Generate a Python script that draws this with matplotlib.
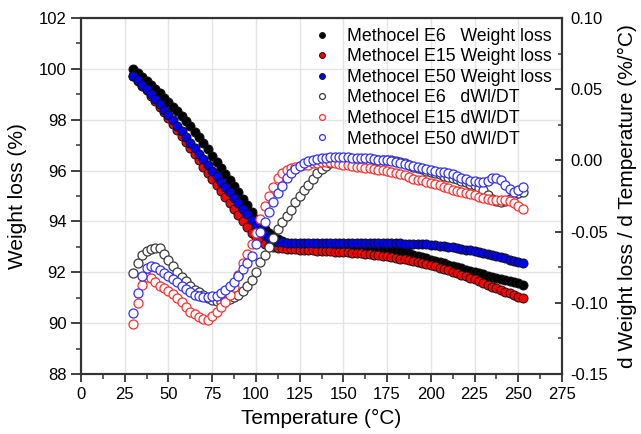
import matplotlib
matplotlib.use("Agg")
import matplotlib.pyplot as plt
from matplotlib.ticker import MultipleLocator, FormatStrFormatter

plt.rcParams["font.family"] = ["Liberation Sans", "DejaVu Sans"]
plt.rcParams["axes.unicode_minus"] = False

# Temperature (°C), one reading every 2.5 °C
temperature = [30 + 2.5 * i for i in range(90)]

# Weight loss (%)
wl_e6 = [
    100.00, 99.85, 99.69, 99.53, 99.37, 99.21, 99.04, 98.87, 98.70, 98.52,
    98.33, 98.14, 97.95, 97.74, 97.53, 97.31, 97.07, 96.83, 96.59, 96.35,
    96.11, 95.87, 95.63, 95.39, 95.15, 94.90, 94.65, 94.38, 94.10, 93.87,
    93.70, 93.55, 93.42, 93.31, 93.22, 93.16, 93.12, 93.10, 93.09, 93.08,
    93.07, 93.07, 93.06, 93.06, 93.05, 93.05, 93.04, 93.04, 93.03, 93.03,
    93.02, 93.02, 93.01, 93.00, 92.99, 92.98, 92.96, 92.94, 92.92, 92.89,
    92.85, 92.82, 92.78, 92.74, 92.70, 92.65, 92.60, 92.55, 92.50, 92.45,
    92.40, 92.35, 92.30, 92.25, 92.20, 92.15, 92.10, 92.05, 92.00, 91.96,
    91.92, 91.87, 91.83, 91.78, 91.74, 91.69, 91.65, 91.60, 91.56, 91.52,
]
wl_e15 = [
    99.70, 99.52, 99.34, 99.15, 98.95, 98.74, 98.52, 98.29, 98.06, 97.83,
    97.60, 97.36, 97.12, 96.88, 96.64, 96.40, 96.16, 95.92, 95.68, 95.44,
    95.20, 94.96, 94.72, 94.48, 94.24, 94.00, 93.77, 93.56, 93.38, 93.23,
    93.12, 93.04, 92.99, 92.96, 92.94, 92.92, 92.91, 92.90, 92.89, 92.88,
    92.87, 92.86, 92.85, 92.84, 92.83, 92.82, 92.81, 92.80, 92.79, 92.78,
    92.77, 92.76, 92.74, 92.73, 92.71, 92.69, 92.67, 92.65, 92.63, 92.60,
    92.57, 92.54, 92.51, 92.48, 92.44, 92.40, 92.36, 92.32, 92.28, 92.23,
    92.18, 92.13, 92.08, 92.03, 91.97, 91.91, 91.85, 91.78, 91.72, 91.65,
    91.58, 91.51, 91.44, 91.37, 91.30, 91.23, 91.17, 91.10, 91.04, 90.98,
]
wl_e50 = [
    99.72, 99.55, 99.38, 99.20, 99.02, 98.82, 98.61, 98.40, 98.19, 97.98,
    97.76, 97.54, 97.32, 97.10, 96.88, 96.66, 96.44, 96.22, 96.00, 95.78,
    95.56, 95.35, 95.14, 94.93, 94.72, 94.50, 94.28, 94.05, 93.83, 93.62,
    93.46, 93.35, 93.27, 93.21, 93.18, 93.16, 93.15, 93.14, 93.14, 93.14,
    93.14, 93.14, 93.14, 93.14, 93.14, 93.14, 93.14, 93.14, 93.15, 93.15,
    93.15, 93.15, 93.15, 93.15, 93.15, 93.15, 93.15, 93.15, 93.15, 93.14,
    93.14, 93.14, 93.13, 93.13, 93.12, 93.11, 93.11, 93.10, 93.08, 93.06,
    93.04, 93.02, 93.00, 92.98, 92.95, 92.92, 92.89, 92.86, 92.83, 92.80,
    92.76, 92.72, 92.68, 92.64, 92.59, 92.55, 92.50, 92.45, 92.40, 92.36,
]

# Derivative of weight loss, dWl/dT (%/°C)
dw_e6 = [
    -0.0789, -0.0721, -0.0664, -0.0634, -0.0620, -0.0614, -0.0618, -0.0657, -0.0700, -0.0743,
    -0.0784, -0.0820, -0.0848, -0.0879, -0.0907, -0.0927, -0.0945, -0.0963, -0.0979, -0.0989,
    -0.0995, -0.0986, -0.0973, -0.0961, -0.0943, -0.0918, -0.0882, -0.0839, -0.0786, -0.0714,
    -0.0664, -0.0611, -0.0545, -0.0482, -0.0429, -0.0393, -0.0348, -0.0295, -0.0250, -0.0211,
    -0.0170, -0.0129, -0.0089, -0.0059, -0.0036, -0.0020, -0.0009, -0.0004, 0.0000, 0.0000,
    0.0000, -0.0002, -0.0004, -0.0004, -0.0004, 0.0000, 0.0004, 0.0005, 0.0004, 0.0000,
    -0.0004, -0.0009, -0.0018, -0.0032, -0.0045, -0.0054, -0.0063, -0.0071, -0.0080, -0.0089,
    -0.0098, -0.0107, -0.0116, -0.0125, -0.0134, -0.0143, -0.0152, -0.0164, -0.0175, -0.0193,
    -0.0211, -0.0241, -0.0268, -0.0286, -0.0289, -0.0286, -0.0268, -0.0246, -0.0232, -0.0223,
]
dw_e15 = [
    -0.1152, -0.1000, -0.0875, -0.0816, -0.0829, -0.0857, -0.0880, -0.0898, -0.0918, -0.0939,
    -0.0963, -0.0991, -0.1027, -0.1066, -0.1082, -0.1100, -0.1116, -0.1120, -0.1096, -0.1064,
    -0.1030, -0.0993, -0.0946, -0.0891, -0.0804, -0.0718, -0.0657, -0.0589, -0.0509, -0.0411,
    -0.0321, -0.0250, -0.0184, -0.0125, -0.0086, -0.0064, -0.0054, -0.0046, -0.0039, -0.0034,
    -0.0029, -0.0021, -0.0016, -0.0011, -0.0009, -0.0013, -0.0018, -0.0023, -0.0029, -0.0034,
    -0.0039, -0.0045, -0.0048, -0.0052, -0.0055, -0.0059, -0.0064, -0.0070, -0.0075, -0.0080,
    -0.0086, -0.0093, -0.0102, -0.0114, -0.0127, -0.0136, -0.0141, -0.0150, -0.0157, -0.0166,
    -0.0175, -0.0186, -0.0196, -0.0207, -0.0216, -0.0225, -0.0232, -0.0239, -0.0246, -0.0254,
    -0.0263, -0.0271, -0.0277, -0.0279, -0.0279, -0.0279, -0.0286, -0.0300, -0.0321, -0.0339,
]
dw_e50 = [
    -0.1071, -0.0929, -0.0813, -0.0754, -0.0739, -0.0750, -0.0768, -0.0789, -0.0813, -0.0836,
    -0.0857, -0.0880, -0.0902, -0.0925, -0.0943, -0.0954, -0.0961, -0.0959, -0.0955, -0.0950,
    -0.0932, -0.0907, -0.0884, -0.0854, -0.0813, -0.0764, -0.0718, -0.0670, -0.0589, -0.0500,
    -0.0429, -0.0361, -0.0295, -0.0232, -0.0179, -0.0125, -0.0086, -0.0057, -0.0036, -0.0018,
    -0.0004, 0.0005, 0.0013, 0.0016, 0.0020, 0.0023, 0.0025, 0.0027, 0.0025, 0.0021,
    0.0018, 0.0016, 0.0018, 0.0020, 0.0016, 0.0011, 0.0005, 0.0000, 0.0000, -0.0004,
    -0.0011, -0.0018, -0.0025, -0.0032, -0.0039, -0.0046, -0.0054, -0.0061, -0.0066, -0.0071,
    -0.0079, -0.0084, -0.0089, -0.0096, -0.0107, -0.0121, -0.0134, -0.0143, -0.0148, -0.0150,
    -0.0152, -0.0143, -0.0125, -0.0121, -0.0139, -0.0170, -0.0200, -0.0220, -0.0211, -0.0184,
]

wl_labels = ["Methocel E6   Weight loss", "Methocel E15 Weight loss", "Methocel E50 Weight loss"]
dw_labels = ["Methocel E6   dWl/DT", "Methocel E15 dWl/DT", "Methocel E50 dWl/DT"]
fill_colors = ["#000000", "#ff0000", "#0000ff"]
open_colors = ["#3a3a3a", "#ff3030", "#3030ff"]

fig = plt.figure(figsize=(6.41, 4.34), dpi=100)
ax = fig.add_axes([0.1264, 0.1382, 0.7504, 0.8203])
ax2 = ax.twinx()

spine_color = "#333333"
handles = []
for y, c, lab in zip([wl_e6, wl_e15, wl_e50], fill_colors, wl_labels):
    h, = ax.plot(temperature, y, linestyle="none", marker="o", ms=6.5,
                 mfc=c, mec="#111111", mew=0.7, label=lab, zorder=3)
    handles.append(h)
for y, c, lab in zip([dw_e6, dw_e15, dw_e50], open_colors, dw_labels):
    h, = ax2.plot(temperature, y, linestyle="none", marker="o", ms=6.5,
                  mfc="white", mec=c, mew=0.9, label=lab, zorder=3)
    handles.append(h)

ax.set_xlim(0, 275)
ax.set_ylim(88, 102)
ax2.set_ylim(-0.15, 0.10)

ax.xaxis.set_major_locator(MultipleLocator(25))
ax.xaxis.set_minor_locator(MultipleLocator(12.5))
ax.yaxis.set_major_locator(MultipleLocator(2))
ax.yaxis.set_minor_locator(MultipleLocator(1))
ax2.yaxis.set_major_locator(MultipleLocator(0.05))
ax2.yaxis.set_minor_locator(MultipleLocator(0.025))
ax2.yaxis.set_major_formatter(FormatStrFormatter("%.2f"))

ax.grid(True, which="major", color="#e4e4e4", linewidth=1.0, zorder=0)
ax.set_axisbelow(True)

for a in (ax, ax2):
    for s in a.spines.values():
        s.set_color(spine_color)
        s.set_linewidth(1.5)

ax.tick_params(axis="both", which="major", direction="out", length=6, width=1.3,
               color=spine_color, labelsize=12, top=False, right=False)
ax.tick_params(axis="both", which="minor", direction="out", length=3.5, width=1.1,
               color=spine_color, top=False, right=False)
ax.tick_params(axis="y", which="major", length=7)
ax2.tick_params(axis="y", which="major", direction="in", length=5, width=1.3,
                color=spine_color, labelsize=12, pad=6)
ax2.tick_params(axis="y", which="minor", direction="in", length=3, width=1.1,
                color=spine_color)

ax.set_xlabel("Temperature (°C)", fontsize=15, labelpad=5)
ax.set_ylabel("Weight loss (%)", fontsize=15, labelpad=8)
ax2.set_ylabel("d Weight loss / d Temperature (%/°C)", fontsize=15, labelpad=7)

leg = ax2.legend(handles=handles, loc="upper right", bbox_to_anchor=(1.0, 1.0),
                 frameon=False, fontsize=12.8, markerscale=0.65, handlelength=1.0,
                 handletextpad=0.9, labelspacing=0.2, borderaxespad=0.15)

fig.savefig("out.png", dpi=100)
